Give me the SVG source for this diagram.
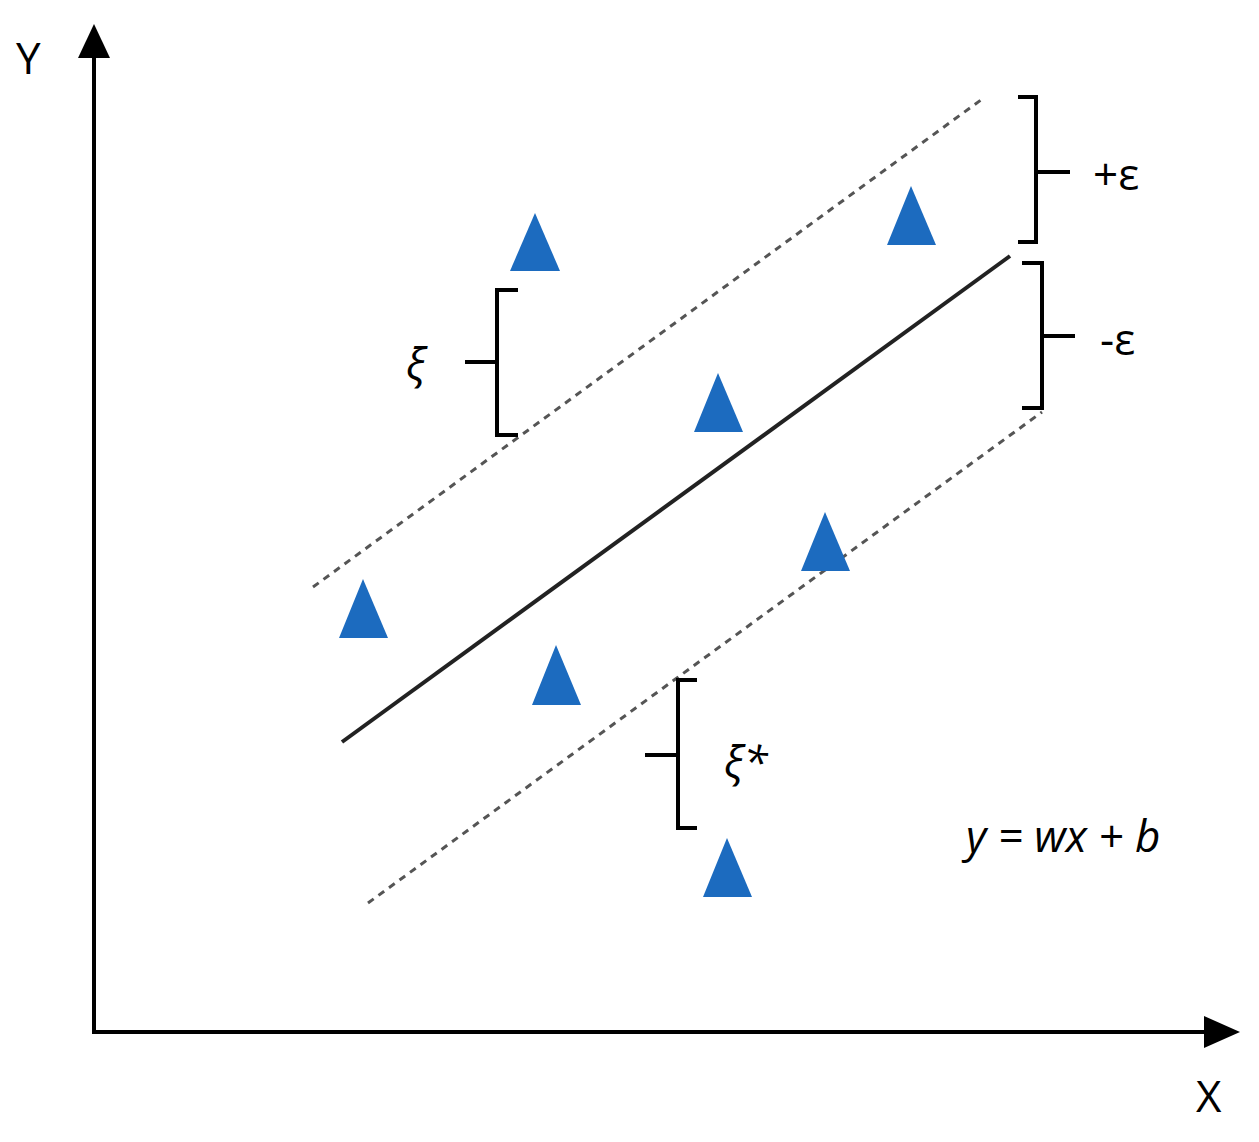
<svg xmlns="http://www.w3.org/2000/svg" width="1259" height="1142" viewBox="0 0 1259 1142">
<style>
.ax{stroke:#000;stroke-width:4;fill:none}
.dash{stroke:#555;stroke-width:3;stroke-dasharray:7 6;fill:none}
.br{stroke:#000;stroke-width:4;fill:none}
.tri{fill:#1c6bbf}
text{font-family:"Open Sans","Liberation Sans",sans-serif;font-size:44px;fill:#000}
.it{font-style:italic}
</style>
<rect width="1259" height="1142" fill="#fff"/>
<g id="axes">
<line class="ax" x1="94" y1="1032" x2="94" y2="50"/>
<polygon points="94,24 78,58 110,58" fill="#000"/>
<line class="ax" x1="92" y1="1032" x2="1210" y2="1032"/>
<polygon points="1240,1032 1204,1016 1204,1048" fill="#000"/>
<text x="16" y="74">Y</text>
<text x="1196" y="1112">X</text>
</g>
<g id="lines">
<line x1="342" y1="742" x2="1010" y2="256" stroke="#222" stroke-width="4"/>
<line class="dash" x1="313" y1="587" x2="985" y2="97"/>
<line class="dash" x1="368" y1="903" x2="1042" y2="412"/>
</g>
<g id="points">
<polygon class="tri" points="535,213 510,271 560,271"/>
<polygon class="tri" points="911,186 887,245 936,245"/>
<polygon class="tri" points="718,373 694,432 743,432"/>
<polygon class="tri" points="363,579 339,638 388,638"/>
<polygon class="tri" points="825,512 801,571 850,571"/>
<polygon class="tri" points="556,645 532,705 581,705"/>
<polygon class="tri" points="727,838 703,897 752,897"/>
</g>
<g id="brackets">
<path class="br" d="M1018,97 H1036 V242 H1018 M1036,172 H1070"/>
<text x="1093" y="190">+ε</text>
<path class="br" d="M1022,263 H1042 V408 H1022 M1042,336 H1075"/>
<text x="1100" y="355">-ε</text>
<path class="br" d="M518,290 H497 V435 H518 M465,362 H497"/>
<text class="it" x="406" y="380">ξ</text>
<path class="br" d="M697,680 H678 V828 H697 M645,755 H678"/>
<text class="it" x="724" y="778">ξ*</text>
<text class="it" x="966" y="852">y = wx + b</text>
</g>
</svg>
